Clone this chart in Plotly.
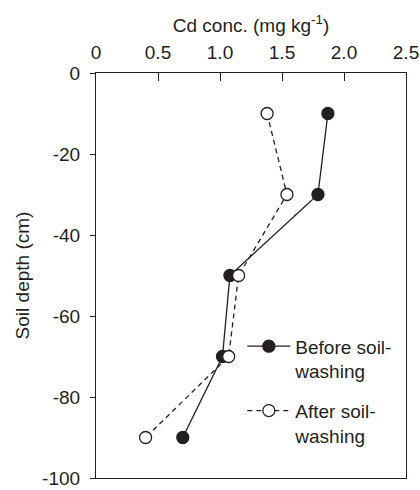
import plotly.graph_objects as go

depth = [-10, -30, -50, -70, -90]
before = [1.87, 1.79, 1.08, 1.02, 0.70]
after = [1.38, 1.54, 1.15, 1.07, 0.40]
x_ticks = [0, 0.5, 1.0, 1.5, 2.0, 2.5]
x_tick_text = ["0", "0.5", "1.0", "1.5", "2.0", "2.5"]
y_ticks = [0, -20, -40, -60, -80, -100]
y_tick_text = ["0", "-20", "-40", "-60", "-80", "-100"]

FONT = "Liberation Sans, Arial, sans-serif"
INK = "#231f20"

fig = go.Figure()
fig.add_trace(go.Scatter(
    x=before, y=depth, mode="lines+markers",
    name="Before soil-<br>washing", legendgroup="a",
    line=dict(color=INK, width=1.3),
    marker=dict(symbol="circle", size=12, color=INK,
                line=dict(color=INK, width=1.3)),
))
fig.add_trace(go.Scatter(
    x=after, y=depth, mode="lines+markers",
    name="After soil-<br>washing", legendgroup="b",
    line=dict(color=INK, width=1.3, dash="5px,4px"),
    marker=dict(symbol="circle", size=12, color="white",
                line=dict(color=INK, width=1.3)),
))

fig.update_layout(
    width=420, height=490,
    margin=dict(l=96, r=14, t=73, b=12),
    paper_bgcolor="white", plot_bgcolor="white",
    font=dict(family=FONT, size=19, color=INK),
    showlegend=True,
    hovermode=False,
    legend=dict(x=0.472, y=0.372, xanchor="left", yanchor="top",
                bgcolor="rgba(0,0,0,0)", font=dict(size=19),
                traceorder="grouped", tracegroupgap=12, valign="top",
                itemwidth=43),
    xaxis=dict(
        side="top", range=[0, 2.5], tickvals=x_ticks, ticktext=x_tick_text,
        ticks="inside", ticklen=8, tickcolor=INK, tickwidth=1,
        ticklabelstandoff=5, ticklabeloverflow="allow", automargin=False,
        showline=True, linecolor=INK, linewidth=1.2, mirror=True,
        showgrid=False, zeroline=False,
        title=dict(text="Cd conc. (mg kg<sup>-1</sup>)", font=dict(size=19), standoff=4),
    ),
    yaxis=dict(
        range=[-100, 0], tickvals=y_ticks, ticktext=y_tick_text,
        ticks="outside", ticklen=5, tickcolor=INK, tickwidth=1,
        ticklabelstandoff=6, ticklabeloverflow="allow", automargin=False,
        showline=True, linecolor=INK, linewidth=1.2, mirror=True,
        showgrid=False, zeroline=False,
        title=dict(text="Soil depth (cm)", font=dict(size=19), standoff=7),
    ),
)

fig.write_html(
    "out.html", config={"displayModeBar": False},
    post_script=(
        "document.documentElement.style.overflow='hidden';"
        "document.body.style.margin='0';"
        "document.body.style.overflow='hidden';"
        "var g=document.getElementById('{plot_id}');"
        "g.style.overflow='hidden';"
    ),
)
